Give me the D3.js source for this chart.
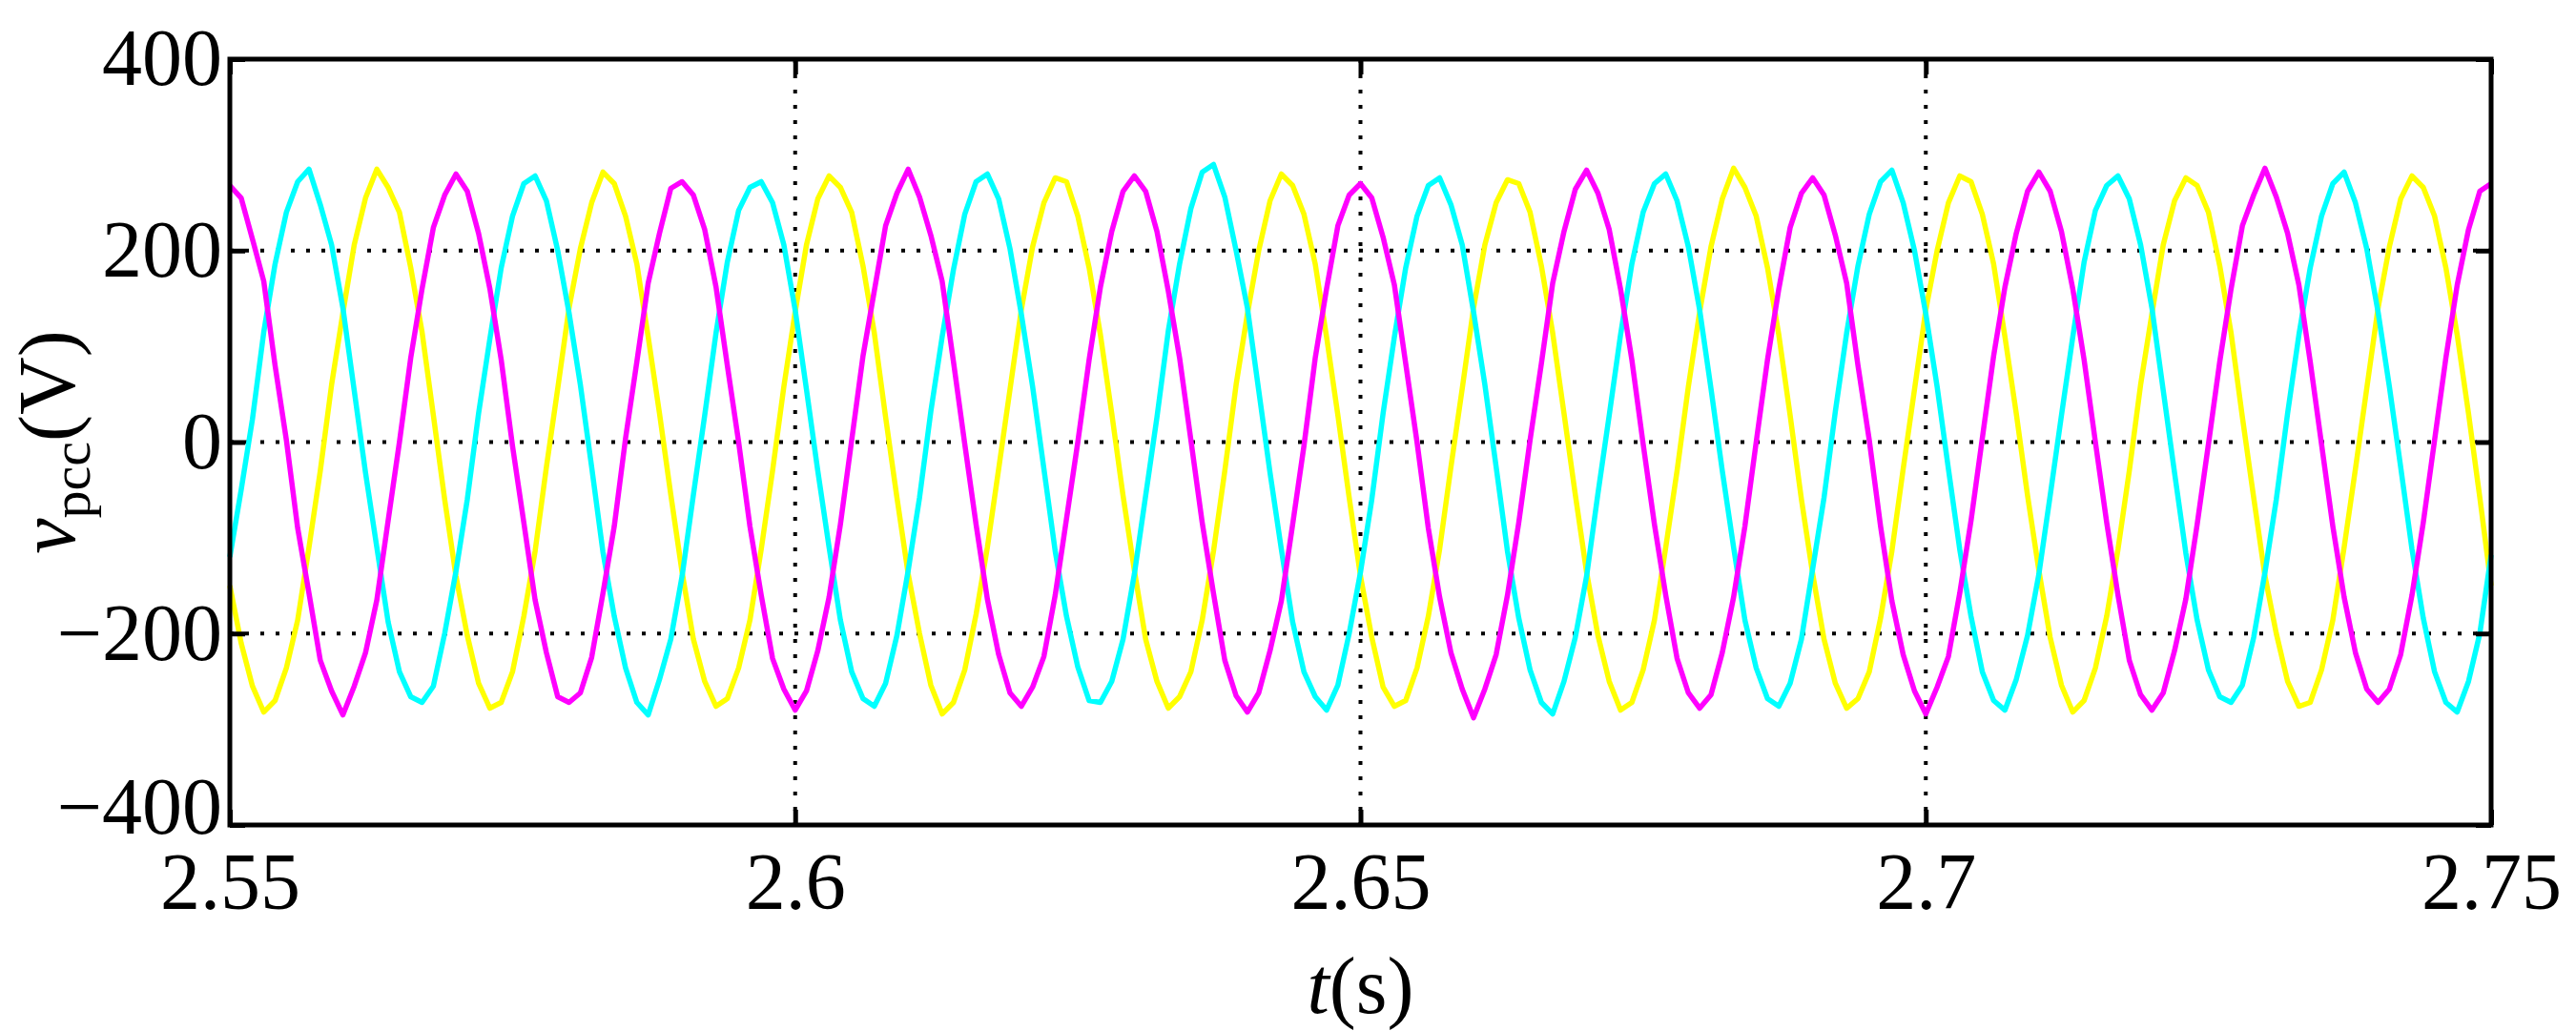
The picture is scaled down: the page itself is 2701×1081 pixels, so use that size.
<html>
<head>
<script src="https://cdnjs.cloudflare.com/ajax/libs/d3/7.8.5/d3.min.js"></script>
<style>
body { margin: 0; background: #fff; }
text { font-family: "Liberation Serif", "DejaVu Serif", serif; }
</style>
</head>
<body>
<svg id="chart" width="2701" height="1081"></svg>
<script>
// sampled every 1 ms from t = 2.55 s
var t0 = 2.55, dt = 0.001;
var xTicks = [2.55, 2.6, 2.65, 2.7, 2.75];
var xTickLabels = ['2.55', '2.6', '2.65', '2.7', '2.75'];
var yTicks = [-400, -200, 0, 200, 400];

var magenta = [
 268,255,212,168,80,2,-90,-158,-228,-260,-285,-255,-220,-165,-82,0,88,160,224,258,
 280,262,218,160,86,-4,-84,-165,-220,-266,-272,-262,-225,-158,-88,4,84,166,218,265,
 272,258,222,162,80,0,-88,-160,-226,-258,-280,-260,-218,-162,-86,2,90,158,226,260,
 285,256,216,168,84,-2,-86,-164,-222,-262,-276,-256,-224,-160,-80,0,86,162,220,262,
 278,262,220,158,88,2,-84,-158,-228,-265,-282,-262,-218,-166,-86,-4,88,160,226,258,
 270,255,214,164,82,0,-90,-162,-220,-258,-288,-258,-222,-160,-84,2,82,166,220,264,
 284,260,222,160,86,-2,-86,-160,-226,-262,-278,-264,-220,-162,-88,0,86,160,224,260,
 276,258,216,166,80,2,-88,-166,-222,-260,-284,-256,-224,-158,-82,4,90,162,218,262,
 282,262,220,160,86,0,-84,-160,-228,-264,-280,-262,-218,-164,-86,-2,84,160,226,258,
 286,256,218,164,84,-2,-88,-162,-220,-258,-272,-258,-222,-160,-84,2,88,164,222,262,
 270];
var cyan = [
 -120,-50,24,115,186,240,272,285,248,206,140,54,-32,-110,-188,-240,-266,-272,-255,-200,
 -135,-60,30,108,182,236,270,278,252,200,135,60,-26,-115,-182,-236,-272,-285,-248,-206,
 -140,-55,28,114,188,242,266,272,250,206,138,55,-30,-110,-186,-240,-268,-276,-252,-202,
 -134,-58,32,110,180,238,272,280,254,202,134,58,-28,-114,-182,-235,-270,-272,-250,-206,
 -138,-56,26,116,186,244,282,290,256,200,140,54,-32,-112,-188,-240,-266,-280,-254,-200,
 -136,-60,30,110,182,236,268,276,248,206,136,60,-26,-114,-184,-238,-272,-284,-250,-204,
 -140,-54,28,112,186,240,270,280,252,204,138,56,-30,-110,-186,-236,-268,-276,-252,-206,
 -132,-58,32,114,184,238,272,284,250,200,134,58,-28,-112,-182,-240,-270,-280,-248,-202,
 -138,-56,28,110,188,242,268,278,254,206,140,54,-32,-116,-186,-238,-266,-272,-254,-204,
 -136,-60,30,112,182,236,270,282,250,202,136,58,-26,-112,-184,-240,-272,-282,-250,-200,
 -118];
var yellow = [
 -150,-210,-255,-282,-270,-236,-186,-110,-30,60,135,206,255,285,266,240,182,115,28,-60,
 -140,-202,-252,-278,-272,-240,-182,-114,-26,56,140,202,250,282,270,236,186,110,30,-55,
 -136,-206,-250,-276,-268,-236,-186,-112,-30,58,136,206,254,278,266,240,184,114,26,-58,
 -138,-200,-254,-284,-272,-238,-180,-110,-28,55,138,204,250,276,272,236,182,112,30,-56,
 -134,-206,-250,-278,-266,-240,-186,-114,-30,60,134,200,252,280,268,238,186,110,28,-58,
 -140,-204,-256,-276,-270,-236,-182,-112,-26,56,140,206,250,274,270,240,184,114,30,-55,
 -136,-202,-250,-280,-272,-238,-186,-110,-30,58,136,204,254,286,266,236,182,112,28,-60,
 -138,-206,-252,-278,-268,-240,-184,-114,-28,55,138,200,250,278,272,238,186,110,30,-56,
 -134,-204,-254,-282,-270,-236,-182,-112,-30,60,134,206,252,276,268,240,184,114,26,-58,
 -140,-200,-250,-276,-272,-238,-186,-110,-28,56,140,204,254,278,266,236,182,112,30,-58,
 -150];

var L = 241, R = 2612, T = 62, B = 865;
var svg = d3.select('#chart');
var x = d3.scaleLinear().domain([2.55, 2.75]).range([L, R]);
var y = d3.scaleLinear().domain([-400, 400]).range([B, T]);

// grid
var grid = svg.append('g').attr('stroke', '#000').attr('stroke-width', 4).attr('stroke-dasharray', '4,12');
grid.selectAll('.gx').data(xTicks.slice(1, -1)).enter().append('line')
    .attr('x1', function (d) { return x(d); }).attr('x2', function (d) { return x(d); })
    .attr('y1', T).attr('y2', B);
grid.selectAll('.gy').data(yTicks.slice(1, -1)).enter().append('line')
    .attr('x1', L).attr('x2', R)
    .attr('y1', function (d) { return y(d); }).attr('y2', function (d) { return y(d); });

// series
var line = d3.line()
    .x(function (d, i) { return x(t0 + i * dt); })
    .y(function (d) { return y(d); });
[[yellow, '#ffff00'], [cyan, '#00ffff'], [magenta, '#ff00ff']].forEach(function (s) {
    svg.append('path').datum(s[0]).attr('d', line)
        .attr('fill', 'none').attr('stroke', s[1]).attr('stroke-width', 5.5)
        .attr('stroke-linejoin', 'round');
});

// axes with inward ticks
var xa = d3.axisBottom(x).tickValues(xTicks).tickSize(-16).tickPadding(28)
    .tickFormat(function (d, i) { return xTickLabels[i]; });
var gx = svg.append('g').attr('transform', 'translate(0,' + B + ')').call(xa);
var xt = d3.axisTop(x).tickValues(xTicks).tickSize(-16).tickFormat('');
svg.append('g').attr('transform', 'translate(0,' + T + ')').call(xt);
var ya = d3.axisLeft(y).tickValues(yTicks).tickSize(-16).tickPadding(8)
    .tickFormat(function (d) { return d < 0 ? '\u2212' + Math.abs(d) : d; });
var gy = svg.append('g').attr('transform', 'translate(' + L + ',0)').call(ya);
var yr = d3.axisRight(y).tickValues(yTicks).tickSize(-16).tickFormat('');
svg.append('g').attr('transform', 'translate(' + R + ',0)').call(yr);
svg.selectAll('.domain').remove();
svg.selectAll('.tick line').attr('stroke', '#000').attr('stroke-width', 5);
svg.selectAll('.tick text').attr('font-size', 84).attr('fill', '#000')
    .style('font-family', '"Liberation Serif", serif');
gx.selectAll('.tick text').attr('dy', '0.71em');
gy.selectAll('.tick text').filter(function (d) { return d === -400; }).attr('dy', '0.1em');

svg.append('rect').attr('x', L).attr('y', T).attr('width', R - L).attr('height', B - T)
    .attr('fill', 'none').attr('stroke', '#000').attr('stroke-width', 5);

// labels
var xl = svg.append('text').attr('x', (L + R) / 2).attr('y', 1062)
    .attr('text-anchor', 'middle').attr('font-size', 84);
xl.append('tspan').attr('font-style', 'italic').text('t');
xl.append('tspan').text('(s)');

var yl = svg.append('text').attr('transform', 'translate(78,' + ((T + B) / 2) + ') rotate(-90)')
    .attr('text-anchor', 'middle').attr('font-size', 84);
yl.append('tspan').attr('font-style', 'italic').text('v');
yl.append('tspan').attr('font-size', 58).attr('dy', 16).text('pcc');
yl.append('tspan').attr('dy', -16).text('(V)');
</script>
</body>
</html>
